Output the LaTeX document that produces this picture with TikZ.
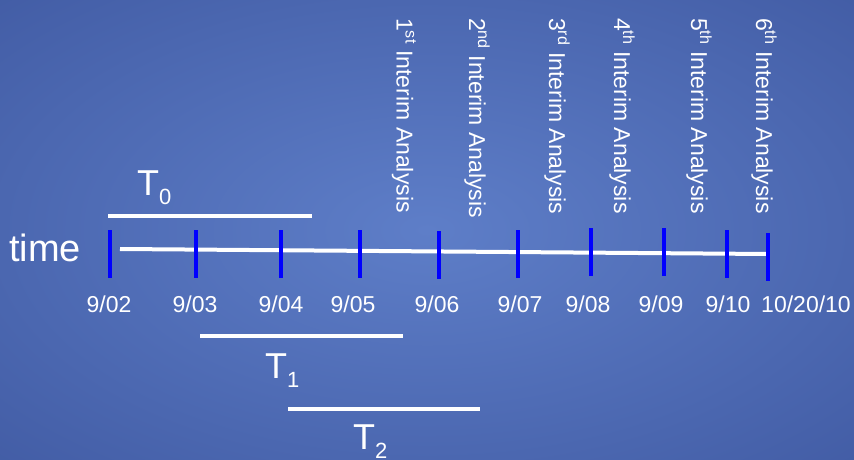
\documentclass[tikz,border=0pt]{standalone}
\usepackage{fontspec}
\setmainfont{Liberation Sans}
\usepackage{tikz}
\definecolor{SlideMid}{RGB}{94,126,200}
\definecolor{SlideEdge}{RGB}{56,80,152}
\definecolor{SlideCorner}{RGB}{40,60,126}
\definecolor{TickBlue}{RGB}{0,0,255}
\pgfdeclareradialshading{slidebg}{\pgfpoint{0bp}{0bp}}{color(0bp)=(SlideMid); color(50bp)=(SlideEdge); color(72bp)=(SlideCorner)}
\newcommand{\Tsub}[1]{T\raisebox{-9pt}{\fontsize{22}{22}\selectfont #1}}

\begin{document}
\begin{tikzpicture}[x=1pt,y=-1pt,
  tickbar/.style={TickBlue,line width=3.5pt},
  bar/.style={white,line width=4pt},
  date/.style={white,anchor=base,inner sep=0pt,font=\fontsize{23}{26}\selectfont},
  ia/.style={white,rotate=-90,anchor=west,inner sep=0pt,font=\fontsize{23}{26}\selectfont},
  tlbl/.style={white,anchor=base west,inner sep=0pt,font=\fontsize{36}{40}\selectfont}]
\useasboundingbox (0,0) rectangle (854,460);
\shade[shading=slidebg] (0,0) rectangle (854,460);
% time axis
\coordinate (a0) at (120,249);
\coordinate (a1) at (768,254);
\draw[bar] (a0) -- (a1);
\node[tlbl,font=\fontsize{38}{40}\selectfont] (time) at (9,261) {time};
\foreach \x/\y/\dx/\d [count=\i] in %
{110/254/109/{9/02},196/254/195/{9/03},281/254/281/{9/04},360/254/353/{9/05},
 439/255/437/{9/06},518/254/520/{9/07},591/252/588/{9/08},664/252/661/{9/09},
 727/254/728/{9/10},768/257/806/{10/20/10}} {
   \coordinate (k\i) at (\x,\y);
   \draw[tickbar] (\x,\y-24) -- (\x,\y+24);
   \node[date] (d\i) at (\dx,312) {\d};
}
% interim analyses
\foreach \x/\n/\s in %
{404/1/st,477/2/nd,557/3/rd,622/4/th,699/5/th,764/6/th} {
   \node[ia] (ia\n) at (\x,18) {\n\textsuperscript{\s} Interim Analysis};
}
% windows
\draw[bar] (108,216) -- (312,216);
\node[tlbl] (T0) at (137,195) {\Tsub{0}};
\draw[bar] (200,336) -- (403,336);
\node[tlbl] (T1) at (265,378) {\Tsub{1}};
\draw[bar] (288,409) -- (480,409);
\node[tlbl] (T2) at (353,449) {\Tsub{2}};
\end{tikzpicture}
\end{document}
